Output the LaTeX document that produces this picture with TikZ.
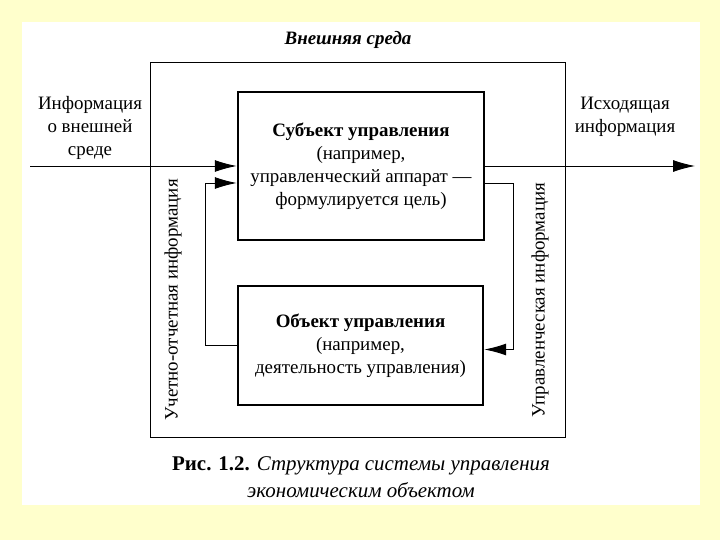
\documentclass[tikz,border=0pt]{standalone}
\usepackage{fontspec}
\setmainfont{Liberation Serif}
\usetikzlibrary{arrows.meta}
\definecolor{bgyellow}{HTML}{FFFFCC}
\tikzset{
  txt/.style={font=\fontsize{19}{23}\selectfont, align=center, inner sep=0pt},
  mainbox/.style={draw, line width=2.6pt, minimum width=#1, inner sep=0pt, align=center, font=\fontsize{19}{23}\selectfont},
  flow/.style={line width=0.9pt, -{Latex[length=22pt,width=12pt]}},
  thin/.style={line width=0.8pt}
}
\begin{document}
\begin{tikzpicture}[x=1bp,y=-1bp]
\useasboundingbox (0,0) rectangle (720,540);
\fill[bgyellow] (0,0) rectangle (720,540);
\fill[white] (22,22) rectangle (700,505);
% environment box
\draw[thin] (150,62) rectangle (565,437);
\node[txt, font=\fontsize{19}{23}\selectfont\bfseries\itshape] (title) at (348,40) {Внешняя среда};
% main boxes
\node[mainbox=246bp, minimum height=148bp] (subj) at (361,166)
  {\textbf{Субъект управления}\\(например,\\управленческий аппарат —\\формулируется цель)};
\node[mainbox=245bp, minimum height=119bp] (obj) at (360.5,345.5)
  {\textbf{Объект управления}\\(например,\\деятельность управления)};
% side texts
\node[txt] (inlbl) at (90,128) {Информация\\о внешней\\среде};
\node[txt] (outlbl) at (625,117) {Исходящая\\информация};
\node[txt, rotate=90] (leftlbl) at (173,300) {Учетно-отчетная информация};
\node[txt, rotate=90] (rightlbl) at (540,300) {Управленческая информация};
% connectors
\coordinate (in) at (30,166);
\coordinate (out) at (695,166);
\draw[flow] (in) -- (subj.west);
\draw[flow] (subj.east) -- (out);
\draw[flow] (obj.west) -- ++(-31,0) |- ([yshift=-17bp]subj.west);
\draw[flow] ([yshift=-17bp]subj.east) -- ++(28,0) |- ([yshift=-4bp]obj.east);
% caption
\node[txt, font=\fontsize{21}{24}\selectfont] (cap1) at (361,466) {\textbf{Рис. 1.2.} \textit{Структура системы управления}};
\node[txt, font=\fontsize{21}{24}\selectfont] (cap2) at (361,490) {\textit{экономическим объектом}};
\end{tikzpicture}
\end{document}
